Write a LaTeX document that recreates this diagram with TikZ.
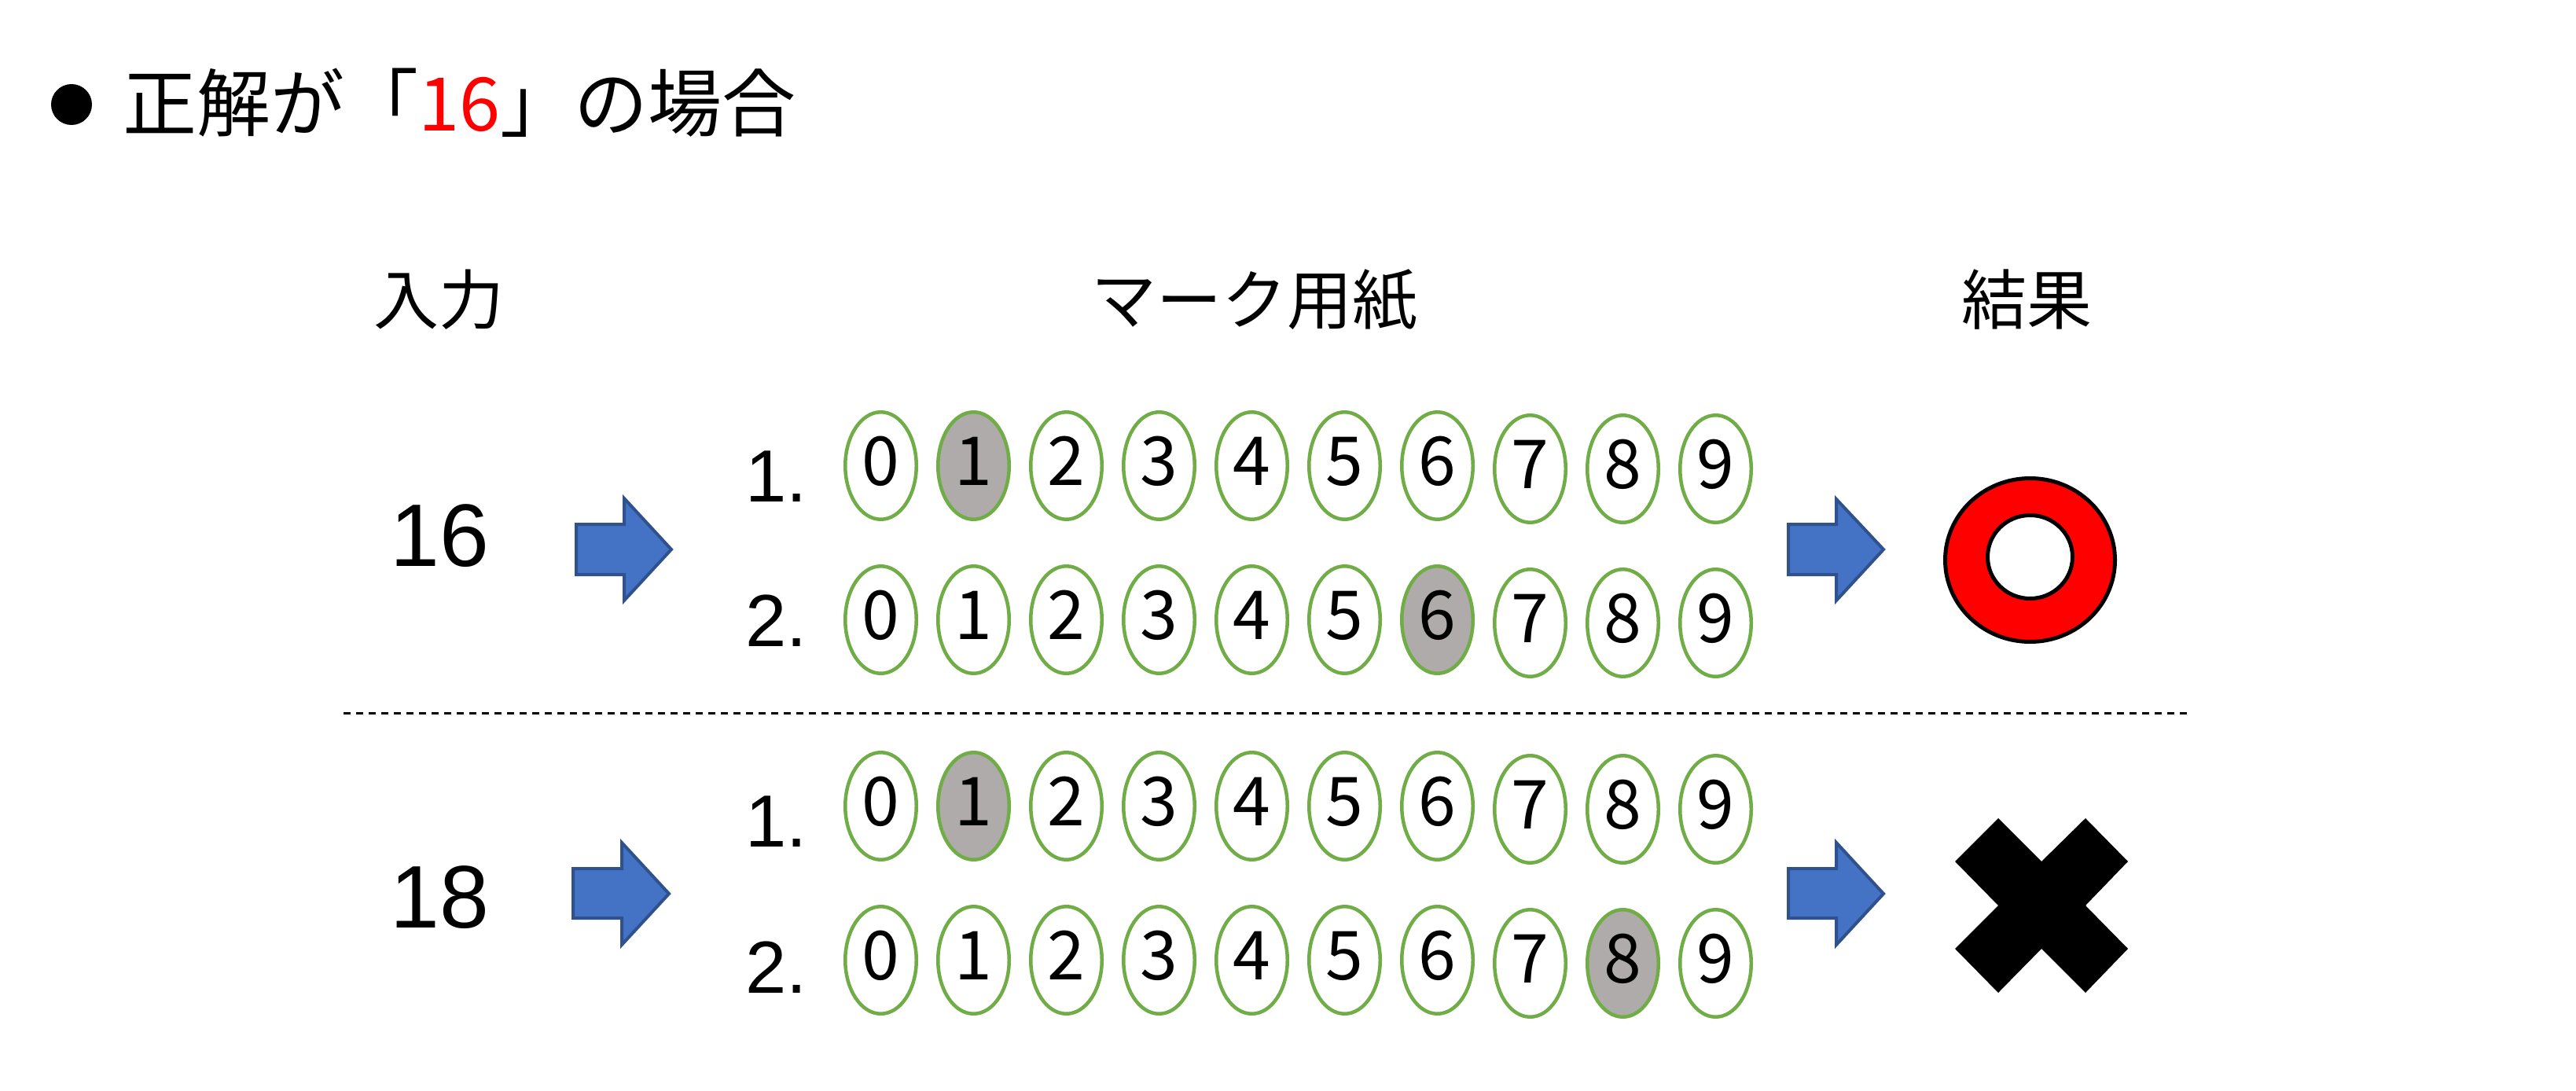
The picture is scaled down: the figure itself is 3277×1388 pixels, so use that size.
\documentclass[tikz,border=0pt]{standalone}
\usepackage{fontspec}
\usetikzlibrary{shapes.geometric}
\newfontfamily\jp{Noto Sans CJK JP}
\newfontfamily\arial{Liberation Sans}
\definecolor{ovalgreen}{HTML}{70AD47}
\definecolor{markgray}{HTML}{AFABAB}
\definecolor{arrowfill}{HTML}{4472C4}
\definecolor{arrowline}{HTML}{2F528F}
\begin{document}
\begin{tikzpicture}[x=1pt,y=-1pt,
  oval/.style={ellipse, draw=ovalgreen, line width=4.5pt, minimum width=90.5pt, minimum height=136.5pt, inner sep=0pt},
  digit/.style={anchor=base, inner sep=0pt, font=\jp\fontsize{86}{86}\selectfont},
  rowlab/.style={anchor=base west, inner sep=0pt, font=\arial\fontsize{94}{94}\selectfont},
  inlab/.style={anchor=base west, inner sep=0pt, font=\arial\fontsize{113}{113}\selectfont},
  head/.style={anchor=base, inner sep=0pt, font=\jp\fontsize{83}{83}\selectfont},
  blockarrow/.style={fill=arrowfill, draw=arrowline, line width=4pt},
  sepline/.style={draw=black, line width=3.3pt, dash pattern=on 9pt off 7pt}
]
\useasboundingbox (0,0) rectangle (3277,1388);
\fill[white] (0,0) rectangle (3277,1388);

% title
\fill[black] (91,133) circle[radius=26pt];
\node[anchor=base west, inner sep=0pt, font=\jp\fontsize{94}{94}\selectfont] (title) at (156,167) {正解が「\textcolor{red}{16}」の場合};

% headers
\node[head] (h1) at (558,412) {入力};
\node[head] (h2) at (1596,412) {マーク用紙};
\node[head] (h3) at (2578,412) {結果};

% inputs
\node[inlab] (in1) at (496,720) {16};
\node[inlab] (in2) at (496,1180) {18};

% row labels
\node[rowlab] (l1) at (948,638) {1.};
\node[rowlab] (l2) at (948,822) {2.};
\node[rowlab] (l3) at (948,1077) {1.};
\node[rowlab] (l4) at (948,1263) {2.};

% ovals
\foreach \r/\yy/\m in {1/592.5/1, 2/788.5/6, 3/1025.5/1, 4/1221.5/8}{
  \foreach \d in {0,...,9}{
    \pgfmathsetmacro\xx{1120.5+118*\d}
    \pgfmathsetmacro\yo{\yy+(\d>6)*4}
    \ifnum\d=\m \def\fc{markgray}\else\def\fc{white}\fi
    \node[oval, fill=\fc] (o\r\d) at (\xx,\yo) {};
    \node[digit] (t\r\d) at ([yshift=-25pt]o\r\d.center) {\d};
  }
}

% block arrows
\draw[blockarrow] (733,667) -- (794,667) -- (794,634) -- (854,699) -- (794,764) -- (794,731) -- (733,731) -- cycle;
\draw[blockarrow] (729,1105) -- (791,1105) -- (791,1072) -- (851,1137) -- (791,1202) -- (791,1168) -- (729,1168) -- cycle;
\draw[blockarrow] (2275,667) -- (2336,667) -- (2336,635) -- (2396,699) -- (2336,764) -- (2336,731) -- (2275,731) -- cycle;
\draw[blockarrow] (2275,1105) -- (2336,1105) -- (2336,1072) -- (2396,1137) -- (2336,1202) -- (2336,1168) -- (2275,1168) -- cycle;

% separator
\draw[sepline] (437,907.5) -- (2789,907.5);

% ring
\path[draw=black, line width=5pt, fill=red, even odd rule]
  (2582.5,712.5) ellipse [x radius=108pt, y radius=104pt]
  (2582.5,708.5) ellipse [x radius=54pt, y radius=53pt];

% cross
\fill[black] (2542,1041) -- (2597,1096) -- (2653,1041) -- (2707,1096) -- (2653,1152) -- (2707,1207) -- (2653,1263) -- (2597,1207) -- (2542,1263) -- (2487,1207) -- (2542,1152) -- (2487,1096) -- cycle;
\end{tikzpicture}
\end{document}
